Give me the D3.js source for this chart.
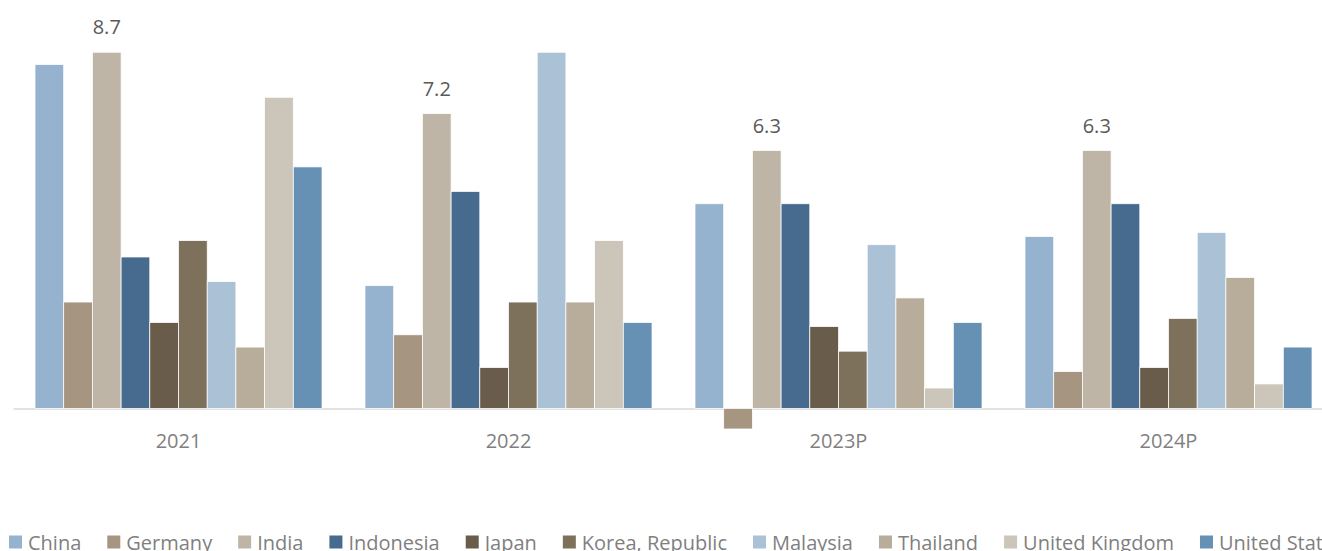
<!DOCTYPE html>
<html>
<head>
<meta charset="utf-8">
<script src="https://cdn.jsdelivr.net/npm/d3@7"></script>
<style>
  html, body { margin: 0; padding: 0; background: #ffffff; overflow: hidden; }
  svg { display: block; font-family: "Open Sans", "Noto Sans", sans-serif; }
</style>
</head>
<body>
<svg id="chart" width="1322" height="551"></svg>
<script>
const years = ["2021", "2022", "2023P", "2024P"];
const countries = ["China", "Germany", "India", "Indonesia", "Japan", "Korea, Republic", "Malaysia", "Thailand", "United Kingdom", "United States"];
const colors = ["#95B3CF", "#A69681", "#BEB5A7", "#466B8E", "#6A5C4B", "#7D715C", "#ABC2D6", "#B8AC9A", "#CCC5B9", "#6690B4"];
const china = [8.4, 3.0, 5.0, 4.2];
const germany = [2.6, 1.8, -0.5, 0.9];
const india = [8.7, 7.2, 6.3, 6.3];
const indonesia = [3.7, 5.3, 5.0, 5.0];
const japan = [2.1, 1.0, 2.0, 1.0];
const korea = [4.1, 2.6, 1.4, 2.2];
const malaysia = [3.1, 8.7, 4.0, 4.3];
const thailand = [1.5, 2.6, 2.7, 3.2];
const uk = [7.6, 4.1, 0.5, 0.6];
const us = [5.9, 2.1, 2.1, 1.5];
const seriesValues = [china, germany, india, indonesia, japan, korea, malaysia, thailand, uk, us];
const labelledSeries = "India";

const svg = d3.select("#chart");
const baseline = 408.5;
const unit = 40.95;

const y = d3.scaleLinear().domain([0, 9]).range([baseline, baseline - 9 * unit]);
const x0 = d3.scaleBand().domain(years).range([13.5, 1333.5]).padding(0);
const bw = x0.bandwidth();
const pad = bw * 43 / 330 / 2;
const x1 = d3.scaleBand().domain(countries).range([pad, bw - pad]).padding(0);

// axis line
svg.append("line")
  .attr("x1", 13.5).attr("x2", 1333.5)
  .attr("y1", y(0) + 0.5).attr("y2", y(0) + 0.5)
  .attr("stroke", "#D9D9D9").attr("stroke-width", 1.5);

// bars
const groups = svg.selectAll("g.year").data(years).enter().append("g")
  .attr("class", "year")
  .attr("transform", d => `translate(${x0(d)},0)`);

groups.each(function(yr, yi) {
  const g = d3.select(this);
  countries.forEach((c, ci) => {
    const v = seriesValues[ci][yi];
    g.append("rect")
      .attr("x", x1(c))
      .attr("width", x1.bandwidth())
      .attr("y", Math.min(y(v), y(0)))
      .attr("height", Math.abs(y(v) - y(0)))
      .attr("fill", colors[ci])
      .attr("stroke", "#ffffff")
      .attr("stroke-width", 0.75);
    if (c === labelledSeries) {
      g.append("text")
        .attr("x", x1(c) + x1.bandwidth() / 2)
        .attr("y", y(v) - 18)
        .attr("text-anchor", "middle")
        .attr("font-size", 20)
        .attr("fill", "#595959")
        .text(v.toFixed(1));
    }
  });
});

// category axis labels
const xAxis = d3.axisBottom(x0).tickSize(0).tickPadding(0);
const ax = svg.append("g").attr("transform", `translate(0,${baseline})`).call(xAxis);
ax.select(".domain").remove();
ax.selectAll("text")
  .attr("dy", null)
  .attr("y", 39.5)
  .attr("font-size", 20)
  .attr("font-family", "Open Sans, Noto Sans, sans-serif")
  .attr("fill", "#7F7F7F");

// legend
const legend = svg.append("g");
let lx = 9;
countries.forEach((c, ci) => {
  legend.append("rect")
    .attr("x", lx).attr("y", 535.5)
    .attr("width", 13).attr("height", 13)
    .attr("fill", colors[ci]);
  const t = legend.append("text")
    .attr("x", lx + 19).attr("y", 549.5)
    .attr("font-size", 20)
    .attr("fill", "#7F7F7F")
    .text(c);
  lx += 19 + t.node().getComputedTextLength() + 26;
});
</script>
</body>
</html>
